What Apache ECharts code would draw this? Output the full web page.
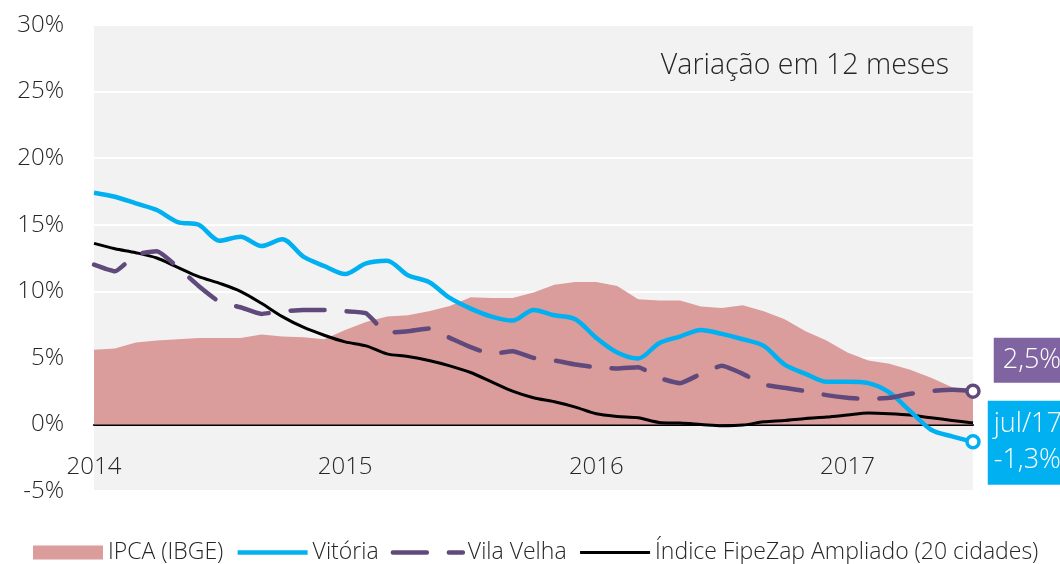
<!DOCTYPE html>
<html>
<head>
<meta charset="utf-8">
<script src="https://cdn.jsdelivr.net/npm/echarts@6/dist/echarts.min.js"></script>
<style>
  html, body { margin: 0; padding: 0; background: #fff; }
  #chart { width: 1060px; height: 564px; }
</style>
</head>
<body>
<div id="chart"></div>
<script>
// meses (jan/2014 a jul/2017)
const months = [
  '2014-01', '2014-02', '2014-03', '2014-04', '2014-05', '2014-06', '2014-07', '2014-08', '2014-09', '2014-10', '2014-11', '2014-12',
  '2015-01', '2015-02', '2015-03', '2015-04', '2015-05', '2015-06', '2015-07', '2015-08', '2015-09', '2015-10', '2015-11', '2015-12',
  '2016-01', '2016-02', '2016-03', '2016-04', '2016-05', '2016-06', '2016-07', '2016-08', '2016-09', '2016-10', '2016-11', '2016-12',
  '2017-01', '2017-02', '2017-03', '2017-04', '2017-05', '2017-06', '2017-07'
]
const yearTicks = { '2014-01': '2014', '2015-01': '2015', '2016-01': '2016', '2017-01': '2017' }

// variação em 12 meses (%)
const ipca = [
  5.6, 5.7, 6.15, 6.3, 6.4, 6.5, 6.5, 6.5, 6.75, 6.6, 6.55, 6.4,
  7.1, 7.7, 8.1, 8.2, 8.5, 8.9, 9.55, 9.5, 9.5, 9.9, 10.5, 10.7,
  10.7, 10.4, 9.4, 9.3, 9.3, 8.85, 8.75, 8.95, 8.5, 7.9, 7.0, 6.3,
  5.4, 4.8, 4.55, 4.1, 3.5, 2.8, 2.6
]
const vitoria = [
  17.4, 17.1, 16.6, 16.1, 15.2, 15.0, 13.8, 14.1, 13.4, 13.9, 12.6, 11.9,
  11.3, 12.1, 12.3, 11.2, 10.7, 9.5, 8.7, 8.1, 7.8, 8.6, 8.2, 7.9,
  6.5, 5.4, 4.95, 6.1, 6.6, 7.1, 6.8, 6.4, 5.9, 4.5, 3.8, 3.2,
  3.2, 3.1, 2.4, 1.0, -0.4, -0.9, -1.3
]
const vilaVelha = [
  12.0, 11.5, 12.75, 13.0, 11.8, 10.4, 9.2, 8.8, 8.3, 8.5, 8.6, 8.6,
  8.5, 8.35, 6.9, 7.0, 7.2, 6.5, 5.8, 5.3, 5.5, 5.0, 4.8, 4.5,
  4.3, 4.2, 4.3, 3.5, 3.1, 3.8, 4.4, 3.8, 3.0, 2.75, 2.5, 2.2,
  2.0, 1.9, 2.0, 2.3, 2.5, 2.6, 2.5
]
const fipezap = [
  13.6, 13.2, 12.9, 12.5, 11.8, 11.1, 10.6, 10.0, 9.1, 8.1, 7.3, 6.7,
  6.2, 5.9, 5.3, 5.1, 4.8, 4.4, 3.9, 3.2, 2.5, 2.0, 1.7, 1.3,
  0.8, 0.6, 0.5, 0.15, 0.1, 0.0, -0.1, -0.05, 0.2, 0.3, 0.45, 0.55,
  0.7, 0.85, 0.8, 0.7, 0.5, 0.3, 0.1
]

const FONT = 'Open Sans'
const WEIGHT = 300
const last = months.length - 1
const fmt = (v) => v.toFixed(1).replace('.', ',') + '%'
const noSymbol = { opacity: 0 }
const vvDash = [34, 22]

const chart = echarts.init(document.getElementById('chart'))
chart.setOption({
  animation: false,
  textStyle: { fontFamily: FONT, fontWeight: WEIGHT, color: '#262626' },
  grid: {
    left: 94, right: 87, top: 25, bottom: 73,
    show: true, backgroundColor: '#f2f2f2', borderWidth: 0
  },
  graphic: [{
    type: 'text',
    right: 111,
    top: 51,
    style: { text: 'Variação em 12 meses', fontFamily: FONT, fontWeight: WEIGHT, fontSize: 28.5, fill: '#262626' }
  }],
  legend: {
    data: [
      { name: 'IPCA (IBGE)', icon: 'rect', itemStyle: { color: '#db9c9c' } },
      { name: 'Vitória', itemStyle: noSymbol, lineStyle: { width: 4.5 } },
      { name: 'Vila Velha', itemStyle: noSymbol, lineStyle: { width: 4.5, type: vvDash, cap: 'round' } },
      { name: 'Índice FipeZap Ampliado (20 cidades)', itemStyle: noSymbol, lineStyle: { width: 3 } }
    ],
    left: 28,
    top: 536,
    itemWidth: 70,
    itemHeight: 14,
    itemGap: 12,
    textStyle: { fontFamily: FONT, fontWeight: WEIGHT, fontSize: 23, color: '#262626' }
  },
  xAxis: {
    type: 'category',
    data: months,
    boundaryGap: false,
    axisLine: { onZero: true, lineStyle: { color: '#000', width: 2 } },
    axisTick: { show: false },
    axisLabel: {
      interval: 0,
      inside: true,
      margin: 12,
      fontSize: 24,
      color: '#262626',
      formatter: (v) => yearTicks[v] || ''
    },
    splitLine: { show: false }
  },
  yAxis: {
    type: 'value',
    min: -5,
    max: 30,
    interval: 5,
    axisLine: { show: false },
    axisTick: { show: false },
    axisLabel: { margin: 30, fontSize: 24, color: '#262626', formatter: '{value}%' },
    splitLine: { lineStyle: { color: '#ffffff', width: 2 } }
  },
  series: [
    {
      name: 'IPCA (IBGE)',
      type: 'line',
      data: ipca,
      symbol: 'none',
      color: '#db9c9c',
      lineStyle: { width: 0 },
      areaStyle: { color: '#db9c9c', opacity: 1 },
      z: 1
    },
    {
      name: 'Vitória',
      type: 'line',
      data: vitoria,
      symbol: 'none',
      smooth: 0.3,
      color: '#00b0f0',
      lineStyle: { color: '#00b0f0', width: 4.5 },
      z: 3
    },
    {
      name: 'Vila Velha',
      type: 'line',
      data: vilaVelha,
      symbol: 'none',
      smooth: 0.15,
      color: '#604a7b',
      lineStyle: { color: '#604a7b', width: 4.5, type: vvDash, cap: 'round' },
      z: 3
    },
    {
      name: 'Índice FipeZap Ampliado (20 cidades)',
      type: 'line',
      data: fipezap,
      symbol: 'none',
      smooth: 0.3,
      color: '#000000',
      lineStyle: { color: '#000000', width: 3 },
      z: 2
    },
    {
      name: 'vv-fim',
      type: 'scatter',
      data: [[months[last], vilaVelha[last]]],
      symbol: 'circle',
      symbolSize: 12,
      itemStyle: { color: '#ffffff', borderColor: '#604a7b', borderWidth: 3.5, opacity: 1 },
      label: {
        show: true,
        position: 'right',
        distance: 13,
        offset: [0, -31],
        formatter: (p) => fmt(p.value[1]),
        backgroundColor: '#8064a2',
        color: '#ffffff',
        fontFamily: FONT,
        fontWeight: WEIGHT,
        fontSize: 27,
        lineHeight: 33,
        padding: [6, 9]
      },
      z: 5
    },
    {
      name: 'vit-fim',
      type: 'scatter',
      data: [[months[last], vitoria[last]]],
      symbol: 'circle',
      symbolSize: 12,
      itemStyle: { color: '#ffffff', borderColor: '#00b0f0', borderWidth: 3.5, opacity: 1 },
      label: {
        show: true,
        position: 'right',
        distance: 7,
        offset: [0, 1],
        formatter: (p) => 'jul/17\n' + fmt(p.value[1]),
        backgroundColor: '#00b0f0',
        color: '#ffffff',
        fontFamily: FONT,
        fontWeight: WEIGHT,
        fontSize: 27,
        lineHeight: 36,
        padding: [6, 6]
      },
      z: 5
    }
  ]
})
</script>
</body>
</html>
